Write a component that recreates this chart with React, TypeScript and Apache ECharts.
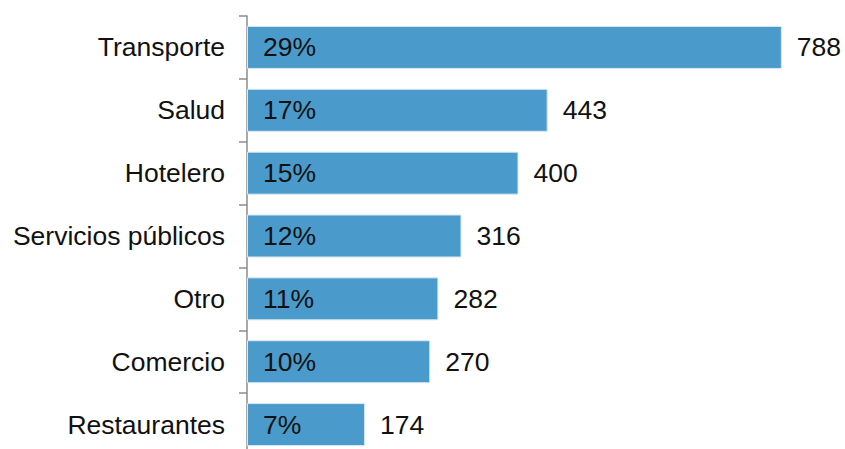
import React, { useEffect, useRef } from "react";
import * as echarts from "echarts";

const categories = ["Transporte", "Salud", "Hotelero", "Servicios públicos", "Otro", "Comercio", "Restaurantes"];
const values = [788, 443, 400, 316, 282, 270, 174];
const percents = ["29%", "17%", "15%", "12%", "11%", "10%", "7%"];

export default function App() {
  const ref = useRef<HTMLDivElement>(null);
  useEffect(() => {
    const chart = echarts.init(ref.current!, null, { renderer: "svg" });
    const font = "'Liberation Sans', Arial, sans-serif";
    chart.setOption({
      animation: false,
      grid: { left: 247, top: 16, width: 543, height: 440, outerBoundsMode: "none", containLabel: false },
      xAxis: { type: "value", min: 0, max: 800, show: false },
      yAxis: {
        type: "category",
        data: categories,
        inverse: true,
        axisLine: { show: true, lineStyle: { color: "#8c8c8c", width: 1.5 } },
        axisTick: { show: true, length: 8, lineStyle: { color: "#8c8c8c", width: 1.5 } },
        axisLabel: { margin: 22, fontSize: 26.5, color: "#111", fontFamily: font },
        splitLine: { show: false },
      },
      series: [
        {
          type: "bar",
          data: values,
          barWidth: 43,
          itemStyle: { color: "#4a9bcb", borderColor: "#d8e8f3", borderWidth: 1 },
          label: {
            show: true,
            position: "insideLeft",
            distance: 16,
            fontSize: 26.5,
            color: "#111",
            fontFamily: font,
            formatter: (p: any) => percents[p.dataIndex],
          },
        },
        {
          type: "bar",
          data: values,
          barWidth: 43,
          barGap: "-100%",
          itemStyle: { color: "rgba(0,0,0,0)" },
          label: {
            show: true,
            position: "right",
            distance: 15,
            fontSize: 26.5,
            color: "#111",
            fontFamily: font,
          },
        },
      ],
    });
    return () => chart.dispose();
  }, []);
  return <div ref={ref} style={{ width: 845, height: 449, position: "absolute", left: 0, top: 0 }} />;
}
